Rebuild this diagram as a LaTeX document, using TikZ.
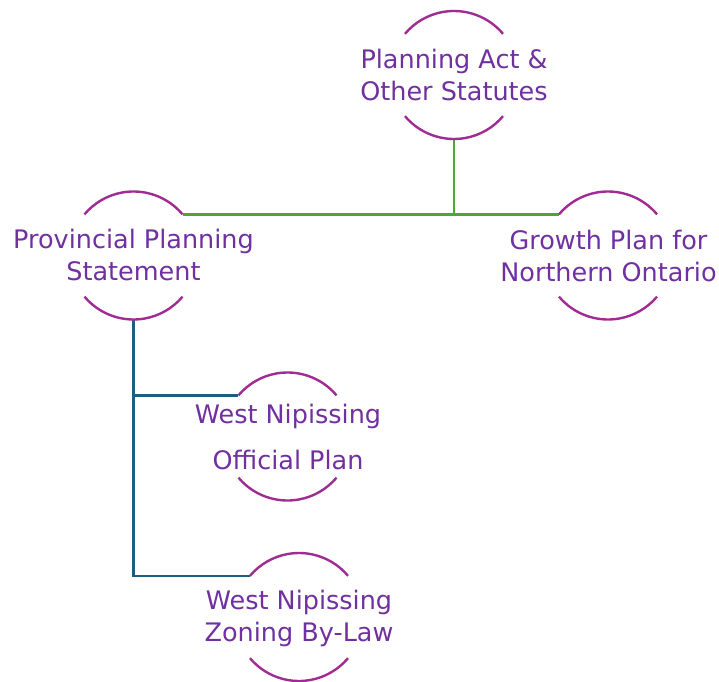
\documentclass[tikz,border=0pt]{standalone}
\usepackage{fontspec}
\setmainfont{DejaVu Sans}
\definecolor{txtpurple}{HTML}{7030A0}
\definecolor{arcpurple}{HTML}{A02B93}
\definecolor{linkgreen}{HTML}{4EA72E}
\definecolor{linkteal}{HTML}{1B5E7E}
\tikzset{
  ring/.style={circle, minimum size=128pt, inner sep=0pt, outer sep=0pt, draw=none},
  ringarc/.style={draw=arcpurple, line width=2.4pt},
  lbl/.style={text=txtpurple, align=center, font=\fontsize{25.5}{32}\selectfont, inner sep=0pt},
  greenlink/.style={draw=linkgreen, line width=2.6pt},
  teallink/.style={draw=linkteal, line width=2.6pt},
}
\newcommand\ringarcs[1]{%
  \draw[ringarc] (#1.40) arc[start angle=40,end angle=140,radius=64pt];
  \draw[ringarc] (#1.220) arc[start angle=220,end angle=320,radius=64pt];
}
\begin{document}
\begin{tikzpicture}[x=1pt,y=1pt]
\useasboundingbox (0,0) rectangle (719,681);
% rings
\node[ring] (A) at (454,606) {};
\node[ring] (P) at (133.5,425.5) {};
\node[ring] (G) at (608,425.5) {};
\node[ring] (O) at (287.5,244.5) {};
\node[ring] (Z) at (299,64) {};
% connectors
\draw[greenlink] (P.40) -- (G.140);
\draw[greenlink] (A.south) -- (A.south |- P.40);
\draw[teallink] (P.south) -- (P.south |- Z.140) -- (Z.140);
\draw[teallink] (P.south |- O.140) -- (O.140);
% arcs
\ringarcs{A}
\ringarcs{P}
\ringarcs{G}
\ringarcs{O}
\ringarcs{Z}
% labels
\node[lbl] (At) at (454,606.5) {Planning Act \&\\Other Statutes};
\node[lbl] (Pt) at (133.5,426) {Provincial Planning\\Statement};
\node[lbl] (Gt) at (608.5,425.5) {Growth Plan for\\Northern Ontario};
\node[lbl, font=\fontsize{25.5}{46}\selectfont] (Ot) at (288,244) {West Nipissing\\Official Plan};
\node[lbl] (Zt) at (299,62.5) {West Nipissing\\Zoning By-Law};
\end{tikzpicture}
\end{document}
